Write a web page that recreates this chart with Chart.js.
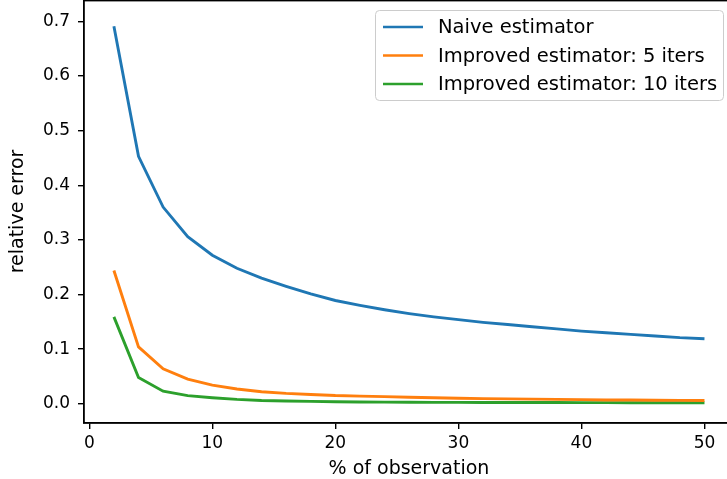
<!DOCTYPE html>
<html>
<head>
<meta charset="utf-8">
<script src="https://cdn.jsdelivr.net/npm/chart.js@4.4.1/dist/chart.umd.min.js"></script>
<style>
  html, body { margin: 0; padding: 0; background: #fff; overflow: hidden; }
  canvas { display: block; }
</style>
</head>
<body>
<canvas id="err-chart" width="740" height="479"></canvas>
<script>
// % of observation
const observation = [2, 4, 6, 8, 10, 12, 14, 16, 18, 20, 22, 24, 26, 28, 30, 32, 34, 36, 38, 40, 42, 44, 46, 48, 50];
// relative error of each estimator
const naiveErr = [0.691, 0.453, 0.360, 0.306, 0.272, 0.248, 0.230, 0.215, 0.201, 0.189, 0.180, 0.172, 0.165, 0.159, 0.154, 0.149, 0.145, 0.141, 0.137, 0.133, 0.130, 0.127, 0.124, 0.121, 0.119];
const improved5Err = [0.244, 0.104, 0.064, 0.045, 0.034, 0.027, 0.022, 0.019, 0.017, 0.015, 0.014, 0.013, 0.012, 0.011, 0.010, 0.0095, 0.009, 0.0085, 0.008, 0.0075, 0.007, 0.0068, 0.0065, 0.0062, 0.006];
const improved10Err = [0.159, 0.048, 0.023, 0.015, 0.011, 0.008, 0.006, 0.005, 0.0043, 0.0037, 0.0033, 0.003, 0.0028, 0.0026, 0.0025, 0.0024, 0.0023, 0.0022, 0.0022, 0.0021, 0.0021, 0.002, 0.002, 0.002, 0.002];
const seriesNames = ['Naive estimator', 'Improved estimator: 5 iters', 'Improved estimator: 10 iters'];
const xTicks = [0, 10, 20, 30, 40, 50];
const yTicks = [0.0, 0.1, 0.2, 0.3, 0.4, 0.5, 0.6, 0.7];

const FONT = 'DejaVu Sans';
const colors = ['#1f77b4', '#ff7f0e', '#2ca02c'];

const toPoints = ys => observation.map((x, i) => ({ x: x, y: ys[i] }));

// 画外框（上、右两条边）
const framePlugin = {
  id: 'frame',
  afterDraw(chart) {
    const { ctx, chartArea: a } = chart;
    ctx.save();
    ctx.strokeStyle = '#000';
    ctx.lineWidth = 1.4;
    ctx.strokeRect(a.left, a.top + 0.7, a.right - a.left, a.bottom - a.top - 0.7);
    ctx.restore();
  }
};

// matplotlib 风格的图例（右上角，带圆角框）
const boxLegend = {
  id: 'boxLegend',
  afterDraw(chart) {
    const ctx = chart.ctx;
    const x0 = 375, y0 = 10, w = 348, h = 90;
    ctx.save();
    ctx.beginPath();
    ctx.roundRect(x0 + 0.5, y0 + 0.5, w, h, 4);
    ctx.fillStyle = 'rgba(255,255,255,0.8)';
    ctx.fill();
    ctx.strokeStyle = '#cccccc';
    ctx.lineWidth = 1;
    ctx.stroke();
    ctx.font = '19.5px "' + FONT + '"';
    ctx.textBaseline = 'middle';
    ctx.fillStyle = '#000';
    chart.data.datasets.forEach((ds, i) => {
      const yy = y0 + 17 + i * 28.5;
      ctx.beginPath();
      ctx.moveTo(x0 + 8, yy);
      ctx.lineTo(x0 + 48, yy);
      ctx.strokeStyle = ds.borderColor;
      ctx.lineWidth = 2.6;
      ctx.stroke();
      ctx.fillText(ds.label, x0 + 63, yy + 1);
    });
    ctx.restore();
  }
};

const ctx = document.getElementById('err-chart').getContext('2d');
const errChart = new Chart(ctx, {
  type: 'line',
  data: {
    datasets: [naiveErr, improved5Err, improved10Err].map((ys, i) => ({
      label: seriesNames[i],
      data: toPoints(ys),
      borderColor: colors[i],
      backgroundColor: colors[i],
      borderWidth: 2.9,
      pointRadius: 0,
      tension: 0,
      fill: false,
    }))
  },
  options: {
    responsive: false,
    animation: false,
    layout: { padding: { top: 0, right: 6, left: 0, bottom: 0 } },
    plugins: {
      legend: { display: false },
      tooltip: { enabled: false },
    },
    scales: {
      x: {
        type: 'linear',
        min: -0.43,
        max: 52.4,
        afterBuildTicks: s => { s.ticks = xTicks.map(v => ({ value: v })); },
        afterFit: s => { s.height = 56; s.paddingLeft = 0; s.paddingRight = 0; },
        grid: { drawOnChartArea: false, drawTicks: true, tickLength: 6, color: '#000', lineWidth: 1.4 },
        border: { display: true, color: '#000', width: 1.4 },
        ticks: { color: '#000', padding: 4, font: { family: FONT, size: 17 }, maxRotation: 0, callback: v => String(v) },
        title: { display: true, text: '% of observation', color: '#000', padding: 0, font: { family: FONT, size: 19, lineHeight: 1 } },
      },
      y: {
        type: 'linear',
        min: -0.0352,
        max: 0.739,
        afterBuildTicks: s => { s.ticks = yTicks.map(v => ({ value: v })); },
        afterFit: s => { s.width = 84; s.paddingTop = 0; s.paddingBottom = 0; },
        grid: { drawOnChartArea: false, drawTicks: true, tickLength: 6, color: '#000', lineWidth: 1.4 },
        border: { display: true, color: '#000', width: 1.4 },
        ticks: { color: '#000', padding: 8, font: { family: FONT, size: 17 }, callback: v => v.toFixed(1) },
        title: { display: true, text: 'relative error', color: '#000', padding: { top: 9, bottom: 0 }, font: { family: FONT, size: 19, lineHeight: 1 } },
      },
    },
  },
  plugins: [framePlugin, boxLegend],
});
</script>
</body>
</html>
